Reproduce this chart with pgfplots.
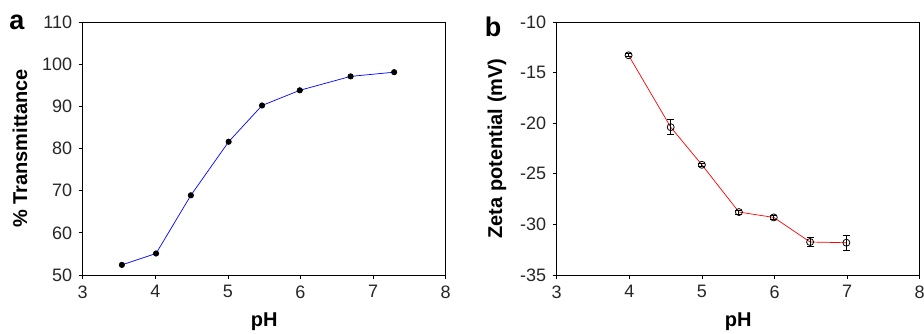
\documentclass[border=0pt]{standalone}
\usepackage{fontspec}
\setmainfont{Liberation Sans}
\usepackage{pgfplots}
\pgfplotsset{compat=1.18}
\begin{document}
\begin{tikzpicture}
\path[use as bounding box] (0pt,0pt) rectangle (924pt,333pt);
\pgfplotsset{
  panel/.style={
    scale only axis, width=363pt, height=253pt,
    anchor=south west,
    xmin=3, xmax=8, xtick={3,4,5,6,7,8},
    axis line style={black, line width=0.8pt},
    tick style={black, line width=0.8pt},
    tick align=outside, major tick length=4pt,
    xtick pos=bottom, ytick pos=left,
    /pgf/number format/assume math mode=true,
    ticklabel style={font=\fontsize{18}{18}\selectfont, text=black!85},
    xticklabel style={yshift=-3pt},
    yticklabel style={xshift=-3pt},
    label style={font=\fontsize{20}{22}\selectfont\bfseries},
    xlabel={pH},
    xlabel style={at={(axis description cs:0.5,0)}, anchor=center, yshift=-47pt},
    clip=false,
  }
}
\begin{axis}[panel, at={(82.7pt,58pt)},
  ymin=50, ymax=110, ytick={50,60,70,80,90,100,110},
  ylabel={\% Transmittance},
  ylabel style={at={(axis description cs:0,0.5)}, anchor=center, rotate=0, yshift=62.7pt}]
\addplot[blue, line width=0.7pt, mark=*, mark size=2.7pt,
  mark options={fill=black, draw=black}] coordinates {
(3.54,52.4) (4.01,55.1) (4.49,68.9) (5.01,81.6) (5.47,90.2) (5.99,93.8) (6.69,97.1) (7.29,98.1)};
\end{axis}
\begin{axis}[panel, at={(556.7pt,58pt)},
  ymin=-35, ymax=-10, ytick={-35,-30,-25,-20,-15,-10},
  ylabel={Zeta potential (mV)},
  ylabel style={at={(axis description cs:0,0.5)}, anchor=center, rotate=0, yshift=59.7pt}]
\addplot[red, line width=0.7pt, mark=o, mark size=3.5pt,
  mark options={draw=black, line width=0.8pt},
  error bars/.cd, y dir=both, y explicit,
  error bar style={black, line width=0.9pt},
  error mark options={rotate=90, mark size=3.5pt, black, line width=0.9pt}]
  coordinates {
(3.99,-13.29) +- (0,0.15)
(4.57,-20.39) +- (0,0.74)
(5.00,-24.11) +- (0,0.18)
(5.51,-28.78) +- (0,0.2)
(5.99,-29.31) +- (0,0.22)
(6.49,-31.74) +- (0,0.46)
(6.99,-31.81) +- (0,0.72)};
\end{axis}
\node[font=\fontsize{27}{27}\selectfont\bfseries, anchor=base] at (17pt,304pt) {a};
\node[font=\fontsize{27}{27}\selectfont\bfseries, anchor=base] at (493pt,297pt) {b};
\end{tikzpicture}
\end{document}
